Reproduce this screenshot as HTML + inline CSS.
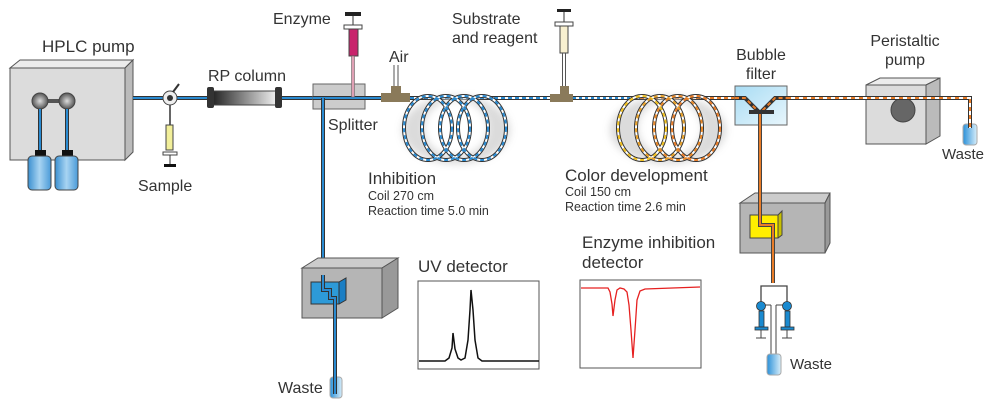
<!DOCTYPE html>
<html><head><meta charset="utf-8"><style>
body{margin:0;background:#fff}
svg{display:block}
text{font-family:"Liberation Sans",sans-serif;fill:#333}
</style></head><body>
<svg width="1000" height="405" viewBox="0 0 1000 405" xmlns="http://www.w3.org/2000/svg">
<defs>
<linearGradient id="col" x1="0" x2="1"><stop offset="0" stop-color="#222"/><stop offset="1" stop-color="#eee"/></linearGradient>
<linearGradient id="bot" x1="0" x2="1"><stop offset="0" stop-color="#3a8fd0"/><stop offset="0.5" stop-color="#a8d4f2"/><stop offset="1" stop-color="#4a9ad8"/></linearGradient>
<linearGradient id="tube" x1="0" x2="1"><stop offset="0" stop-color="#2a90d8"/><stop offset="1" stop-color="#d8eefa"/></linearGradient>
<linearGradient id="bf" x1="0" x2="1" y1="0" y2="1"><stop offset="0" stop-color="#a8dcf4"/><stop offset="1" stop-color="#e8f6fc"/></linearGradient>
<radialGradient id="ph"><stop offset="0" stop-color="#ddd"/><stop offset="1" stop-color="#555"/></radialGradient>
<filter id="blur"><feGaussianBlur stdDeviation="4"/></filter>
</defs>

<!-- HPLC pump -->
<polygon points="10,68 20,60 133,60 125,68" fill="#ececec" stroke="#555"/>
<polygon points="125,68 133,60 133,152 125,160" fill="#bbb" stroke="#555"/>
<rect x="10" y="68" width="115" height="92" fill="#dcdcdc" stroke="#555"/>
<line x1="40" y1="101" x2="68" y2="101" stroke="#555" stroke-width="4"/>
<circle cx="40" cy="101" r="8" fill="url(#ph)" stroke="#444"/>
<circle cx="67" cy="101" r="8" fill="url(#ph)" stroke="#444"/>
<line x1="40" y1="109" x2="40" y2="152" stroke="#333" stroke-width="4"/><line x1="40" y1="109" x2="40" y2="152" stroke="#2a8ad0" stroke-width="2"/>
<line x1="67" y1="109" x2="67" y2="152" stroke="#333" stroke-width="4"/><line x1="67" y1="109" x2="67" y2="152" stroke="#2a8ad0" stroke-width="2"/>
<rect x="35" y="150" width="11" height="6" fill="#111"/><rect x="62" y="150" width="11" height="6" fill="#111"/>
<rect x="28" y="156" width="23" height="34" rx="4" fill="url(#bot)" stroke="#444"/>
<rect x="55" y="156" width="23" height="34" rx="4" fill="url(#bot)" stroke="#444"/>
<text x="42" y="52" font-size="17">HPLC pump</text>

<!-- main line -->
<line x1="133" y1="98" x2="385" y2="98" stroke="#333" stroke-width="4"/>
<line x1="133" y1="98" x2="385" y2="98" stroke="#2a8ad0" stroke-width="2"/>
<line x1="170" y1="98" x2="170" y2="125" stroke="#333" stroke-width="1.5"/>
<circle cx="170" cy="98" r="7" fill="#eee" stroke="#444"/><circle cx="170" cy="98" r="3" fill="#333"/>
<line x1="173" y1="92" x2="179" y2="84" stroke="#333" stroke-width="2"/>
<rect x="166" y="125" width="7" height="25" fill="#f2ef9a" stroke="#444"/>
<rect x="163" y="152" width="14" height="3" fill="#fff" stroke="#444"/>
<line x1="170" y1="155" x2="170" y2="165" stroke="#333"/><rect x="164" y="164" width="12" height="3" fill="#111"/>
<text x="138" y="191" font-size="16">Sample</text>
<rect x="212" y="91" width="64" height="14" fill="url(#col)" stroke="#444"/>
<rect x="207" y="87" width="7" height="21" rx="2" fill="#333"/><rect x="275" y="87" width="7" height="21" rx="2" fill="#333"/>
<text x="208" y="81" font-size="16">RP column</text>

<!-- splitter -->
<rect x="313" y="84" width="52" height="25" fill="#ccc" stroke="#666"/>
<line x1="313" y1="98" x2="383" y2="98" stroke="#333" stroke-width="4"/><line x1="313" y1="98" x2="383" y2="98" stroke="#2a8ad0" stroke-width="2"/>
<text x="328" y="130" font-size="16">Splitter</text>
<rect x="345" y="12" width="16" height="4" fill="#222"/><line x1="353" y1="16" x2="353" y2="25" stroke="#333"/>
<rect x="344" y="25" width="18" height="4" fill="#fff" stroke="#444"/>
<rect x="349" y="29" width="9" height="27" fill="#c8246c" stroke="#444"/>
<rect x="351.5" y="56" width="3" height="41" fill="#e0a0b4" stroke="#666" stroke-width="0.6"/>
<text x="273" y="24" font-size="16">Enzyme</text>
<polyline points="323,98 323,290 330,290 330,298 335,298 335,385" fill="none" stroke="#333" stroke-width="4"/>
<polyline points="323,98 323,290 330,290 330,298 335,298 335,385" fill="none" stroke="#2a8ad0" stroke-width="2"/>

<!-- UV detector box -->
<polygon points="302,268 318,258 398,258 382,268" fill="#ccc" stroke="#555"/>
<polygon points="382,268 398,258 398,308 382,318" fill="#999" stroke="#555"/>
<rect x="302" y="268" width="80" height="50" fill="#b5b5b5" stroke="#555"/>
<polygon points="311,282 339,282 346,278 346,300 339,304 311,304" fill="#1a7ec4" stroke="#333"/>
<rect x="311" y="282" width="28" height="22" fill="#2d9ad8" stroke="#333"/>
<polyline points="323,275 323,290 330,290 330,298 335,298 335,318" fill="none" stroke="#333" stroke-width="4"/>
<polyline points="323,275 323,290 330,290 330,298 335,298 335,318" fill="none" stroke="#2a8ad0" stroke-width="2"/>
<rect x="330" y="377" width="12" height="21" rx="3" fill="url(#tube)" stroke="#aaa"/>
<line x1="335" y1="318" x2="335" y2="394" stroke="#333" stroke-width="4"/><line x1="335" y1="318" x2="335" y2="394" stroke="#2a8ad0" stroke-width="2"/>
<text x="278" y="393" font-size="16">Waste</text>

<text x="418" y="272" font-size="17">UV detector</text>
<rect x="418" y="281" width="121" height="88" fill="#fff" stroke="#555"/>
<path d="M419,361 L445,361 L449,358 L452,348 L453,333 L455,349 L458,358 L461,360 L465,358 L468,340 L470,310 L471,290 L473,310 L475,340 L478,358 L482,361 L539,361" fill="none" stroke="#111" stroke-width="1.5"/>
<text x="582" y="248" font-size="17">Enzyme inhibition</text>
<text x="582" y="268" font-size="17">detector</text>
<rect x="580" y="280" width="121" height="88" fill="#fff" stroke="#555"/>
<path d="M581,288 L608,288 L610,292 L612,304 L613,316 L615,300 L617,290 L620,288 L624,289 L627,292 L629,305 L631,330 L633,358 L635,330 L637,300 L640,291 L645,289 L700,287" fill="none" stroke="#e62020" stroke-width="1.3"/>

<line x1="394" y1="65" x2="394" y2="88" stroke="#555"/><line x1="398" y1="65" x2="398" y2="88" stroke="#555"/>
<rect x="391" y="86" width="10" height="10" fill="#8a7a5a"/>
<rect x="381" y="93" width="29" height="9" fill="#8a7a5a"/>
<text x="389" y="62" font-size="16">Air</text>

<line x1="410" y1="98" x2="552" y2="98" stroke="#333" stroke-width="4"/>
<line x1="410" y1="98" x2="552" y2="98" stroke="#fff" stroke-width="2"/>
<line x1="410" y1="98" x2="552" y2="98" stroke="#2a8ad0" stroke-width="2" stroke-dasharray="4 3"/>
<ellipse cx="456" cy="130" rx="54" ry="34" fill="#999" opacity="0.35" filter="url(#blur)"/>
<ellipse cx="456" cy="128" rx="32" ry="28" fill="#fff" filter="url(#blur)"/>
<g fill="none">
<g stroke="#333" stroke-width="4"><ellipse cx="428" cy="128" rx="24" ry="32"/><ellipse cx="446" cy="128" rx="24" ry="32"/><ellipse cx="464" cy="128" rx="24" ry="32"/><ellipse cx="482" cy="128" rx="24" ry="32"/></g>
<g stroke="#fff" stroke-width="2"><ellipse cx="428" cy="128" rx="24" ry="32"/><ellipse cx="446" cy="128" rx="24" ry="32"/><ellipse cx="464" cy="128" rx="24" ry="32"/><ellipse cx="482" cy="128" rx="24" ry="32"/></g>
<g stroke="#2a8ad0" stroke-width="2" stroke-dasharray="4 3"><ellipse cx="428" cy="128" rx="24" ry="32"/><ellipse cx="446" cy="128" rx="24" ry="32"/><ellipse cx="464" cy="128" rx="24" ry="32"/><ellipse cx="482" cy="128" rx="24" ry="32"/></g>
</g>
<text x="368" y="184" font-size="17">Inhibition</text>
<text x="368" y="200" font-size="12.5">Coil 270 cm</text>
<text x="368" y="215" font-size="12.5">Reaction time 5.0 min</text>

<rect x="557" y="9" width="14" height="3" fill="#222"/><line x1="564" y1="12" x2="564" y2="22" stroke="#333"/>
<rect x="555" y="22" width="18" height="4" fill="#fff" stroke="#444"/>
<rect x="560" y="26" width="8" height="27" fill="#f8f0d0" stroke="#444"/>
<line x1="562.5" y1="53" x2="562.5" y2="88" stroke="#555"/><line x1="565.5" y1="53" x2="565.5" y2="88" stroke="#555"/>
<rect x="560" y="86" width="9" height="10" fill="#8a7a5a"/>
<rect x="550" y="94" width="23" height="8" fill="#8a7a5a"/>
<text x="452" y="24" font-size="16">Substrate</text>
<text x="452" y="43" font-size="16">and reagent</text>

<line x1="573" y1="98" x2="740" y2="98" stroke="#333" stroke-width="4"/>
<line x1="573" y1="98" x2="740" y2="98" stroke="#fff" stroke-width="2"/>
<line x1="573" y1="98" x2="640" y2="98" stroke="#2a8ad0" stroke-width="2" stroke-dasharray="3 3"/>
<line x1="640" y1="98" x2="740" y2="98" stroke="#e87c28" stroke-width="2" stroke-dasharray="4 3"/>
<ellipse cx="668" cy="130" rx="58" ry="34" fill="#999" opacity="0.35" filter="url(#blur)"/>
<ellipse cx="670" cy="128" rx="32" ry="28" fill="#fff" filter="url(#blur)"/>
<g fill="none">
<g stroke="#333" stroke-width="4"><ellipse cx="642" cy="128" rx="24" ry="32"/><ellipse cx="660" cy="128" rx="24" ry="32"/><ellipse cx="678" cy="128" rx="24" ry="32"/><ellipse cx="696" cy="128" rx="24" ry="32"/></g>
<g stroke="#fff" stroke-width="2"><ellipse cx="642" cy="128" rx="24" ry="32"/><ellipse cx="660" cy="128" rx="24" ry="32"/><ellipse cx="678" cy="128" rx="24" ry="32"/><ellipse cx="696" cy="128" rx="24" ry="32"/></g>
<g stroke-width="2" stroke-dasharray="4 3"><ellipse cx="642" cy="128" rx="24" ry="32" stroke="#f0c020"/><ellipse cx="660" cy="128" rx="24" ry="32" stroke="#e8a028"/><ellipse cx="678" cy="128" rx="24" ry="32" stroke="#e88828"/><ellipse cx="696" cy="128" rx="24" ry="32" stroke="#e87c28"/></g>
</g>
<text x="565" y="181" font-size="17">Color development</text>
<text x="565" y="196" font-size="12.5">Coil 150 cm</text>
<text x="565" y="211" font-size="12.5">Reaction time 2.6 min</text>

<rect x="735" y="86" width="52" height="39" fill="url(#bf)" stroke="#666"/>
<polyline points="735,98 745,98 760,113 775,98 787,98" fill="none" stroke="#333" stroke-width="4"/>
<polyline points="735,98 745,98 760,113 775,98 787,98" fill="none" stroke="#e87c28" stroke-width="2" stroke-dasharray="4 3"/>
<rect x="749" y="110" width="25" height="4" fill="#333"/>
<text x="761" y="60" font-size="16" text-anchor="middle">Bubble</text>
<text x="761" y="79" font-size="16" text-anchor="middle">filter</text>

<polygon points="866,85 880,78 940,78 926,85" fill="#ececec" stroke="#555"/>
<polygon points="926,85 940,78 940,136 926,144" fill="#bbb" stroke="#555"/>
<rect x="866" y="85" width="60" height="59" fill="#dcdcdc" stroke="#555"/>
<circle cx="903" cy="110" r="12" fill="#666" stroke="#444"/>
<rect x="963" y="124" width="14" height="21" rx="3" fill="url(#tube)" stroke="#aaa"/>
<polyline points="787,98 970,98 970,128" fill="none" stroke="#333" stroke-width="4"/>
<polyline points="787,98 970,98 970,128" fill="none" stroke="#fff" stroke-width="2"/>
<polyline points="787,98 970,98 970,128" fill="none" stroke="#e87c28" stroke-width="2" stroke-dasharray="4 4"/>
<text x="905" y="46" font-size="16" text-anchor="middle">Peristaltic</text>
<text x="905" y="65" font-size="16" text-anchor="middle">pump</text>
<text x="942" y="159" font-size="15">Waste</text>

<polygon points="740,203 755,193 830,193 825,203" fill="#ccc" stroke="#555"/>
<polygon points="825,203 830,193 830,243 825,253" fill="#999" stroke="#555"/>
<rect x="740" y="203" width="85" height="50" fill="#b5b5b5" stroke="#555"/>
<polygon points="750,215 778,215 782,211 782,235 778,238 750,238" fill="#c8c000" stroke="#444"/>
<rect x="750" y="215" width="28" height="23" fill="#ffee00" stroke="#444"/>
<polyline points="760,114 760,225 773,225 773,283" fill="none" stroke="#444" stroke-width="4"/>
<polyline points="760,114 760,225 773,225 773,283" fill="none" stroke="#e87c28" stroke-width="2"/>
<polyline points="761,310 761,286 787,286 787,310" fill="none" stroke="#444" stroke-width="1.3"/>
<line x1="771" y1="305" x2="771" y2="357" stroke="#444"/><line x1="776" y1="305" x2="776" y2="357" stroke="#444"/>
<polyline points="761,305 771,305" fill="none" stroke="#444"/><polyline points="787,305 776,305" fill="none" stroke="#444"/>
<g fill="#1a8ad0" stroke="#333" stroke-width="0.8">
<circle cx="761" cy="306" r="4.5"/><circle cx="787" cy="306" r="4.5"/>
<rect x="759" y="311" width="5" height="16"/><rect x="785" y="311" width="5" height="16"/>
<rect x="755" y="327" width="13" height="3"/><rect x="781" y="327" width="13" height="3"/>
</g>
<line x1="761" y1="330" x2="761" y2="338" stroke="#444"/><line x1="787" y1="330" x2="787" y2="338" stroke="#444"/>
<line x1="756" y1="338" x2="766" y2="338" stroke="#444"/><line x1="782" y1="338" x2="792" y2="338" stroke="#444"/>
<rect x="767" y="354" width="14" height="21" rx="3" fill="url(#tube)" stroke="#aaa"/>
<text x="790" y="369" font-size="15">Waste</text>
</svg>
</body></html>
